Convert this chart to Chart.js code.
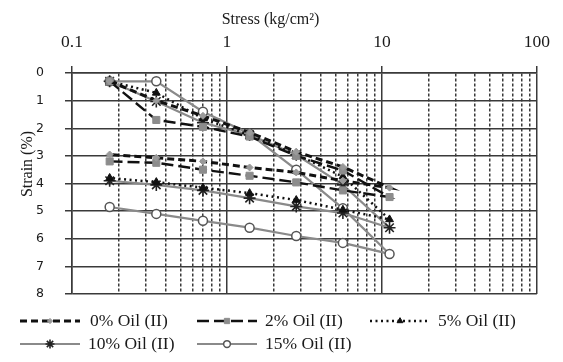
<!DOCTYPE html>
<html>
<head>
<meta charset="utf-8">
<script src="https://cdn.jsdelivr.net/npm/chart.js@4.4.0/dist/chart.umd.min.js"></script>
<style>
  html, body { margin: 0; padding: 0; background: #ffffff; }
  #wrap { width: 563px; height: 362px; }
</style>
</head>
<body>
<div id="wrap"><canvas id="c" width="563" height="362"></canvas></div>
<script>
// Applied stress steps: loading up to 11.2 kg/cm², then unloading back down
const stressSteps = [0.175, 0.35, 0.7, 1.4, 2.8, 5.6, 11.2, 5.6, 2.8, 1.4, 0.7, 0.35, 0.175];

// Strain (%) measured at each stress step
const strainOil0  = [0.3, 1.0, 1.55, 2.15, 2.85, 3.4, 4.15, 3.9, 3.6, 3.42, 3.2, 3.07, 2.95];
const strainOil2  = [0.3, 1.7, 1.95, 2.3, 3.0, 3.53, 4.49, 4.25, 3.96, 3.72, 3.5, 3.25, 3.2];
const strainOil5  = [0.3, 0.72, 1.65, 2.25, 2.95, 3.75, 5.3, 4.95, 4.6, 4.35, 4.15, 3.95, 3.8];
const strainOil10 = [0.3, 1.03, 1.8, 2.24, 2.96, 4.05, 5.6, 5.07, 4.83, 4.53, 4.25, 4.05, 3.9];
const strainOil15 = [0.3, 0.3, 1.4, 2.2, 3.5, 4.9, 6.55, 6.15, 5.9, 5.6, 5.35, 5.1, 4.85];

const seriesNames = ['0% Oil (II)', '2% Oil (II)', '5% Oil (II)', '10% Oil (II)', '15% Oil (II)'];

// Axis ticks
const stressDecades = [0.1, 1, 10, 100];
const stressDecadeLabels = ['0.1', '1', '10', '100'];
const decadeSubdivisions = [1, 2, 3, 4, 5, 6, 7, 8, 9];
const strainTicks = [0, 1, 2, 3, 4, 5, 6, 7, 8];

const GRID = '#3a3a3a';
const SERIF = '"Liberation Serif", "Times New Roman", serif';

function pairs(xs, ys) { return xs.map((x, i) => ({ x: x, y: ys[i] })); }

function isDecade(v) {
  const l = Math.log10(v);
  return Math.abs(l - Math.round(l)) < 1e-9;
}

const datasets = [
  {
    label: seriesNames[0], data: pairs(stressSteps, strainOil0),
    borderColor: '#111', borderWidth: 3, borderDash: [7, 4],
    pointStyle: 'rectRot', pointRadius: 3.5, pointBackgroundColor: '#9a9a9a',
    pointBorderColor: '#9a9a9a', pointBorderWidth: 1
  },
  {
    label: seriesNames[1], data: pairs(stressSteps, strainOil2),
    borderColor: '#111', borderWidth: 2.4, borderDash: [12, 5],
    pointStyle: 'rect', pointRadius: 5, pointBackgroundColor: '#8c8c8c',
    pointBorderColor: '#8c8c8c', pointBorderWidth: 1
  },
  {
    label: seriesNames[2], data: pairs(stressSteps, strainOil5),
    borderColor: '#111', borderWidth: 2.5, borderDash: [2, 3.5],
    pointStyle: 'triangle', pointRadius: 4.5, pointBackgroundColor: '#111',
    pointBorderColor: '#111', pointBorderWidth: 1
  },
  {
    label: seriesNames[3], data: pairs(stressSteps, strainOil10),
    borderColor: '#8a8a8a', borderWidth: 2.2,
    pointStyle: 'star', pointRadius: 6, pointBackgroundColor: '#222',
    pointBorderColor: '#222', pointBorderWidth: 1.6
  },
  {
    label: seriesNames[4], data: pairs(stressSteps, strainOil15),
    borderColor: '#8a8a8a', borderWidth: 2.2,
    pointStyle: 'circle', pointRadius: 4.5, pointBackgroundColor: '#ffffff',
    pointBorderColor: '#555', pointBorderWidth: 1.5
  }
].map(d => Object.assign({ showLine: true, fill: false, tension: 0 }, d));

// Legend laid out in fixed columns under the plot
const legendSlots = [
  { x: 20, y: 321, textX: 90 },
  { x: 197, y: 321, textX: 265 },
  { x: 370, y: 321, textX: 438 },
  { x: 20, y: 344, textX: 88 },
  { x: 197, y: 344, textX: 265 }
];
const legendSampleLength = 60;

const columnLegend = {
  id: 'columnLegend',
  afterDraw(chart) {
    const ctx = chart.ctx;
    chart.data.datasets.forEach((ds, i) => {
      const slot = legendSlots[i];
      ctx.save();
      ctx.strokeStyle = ds.borderColor;
      ctx.lineWidth = ds.borderWidth;
      ctx.setLineDash(ds.borderDash || []);
      ctx.beginPath();
      ctx.moveTo(slot.x, slot.y);
      ctx.lineTo(slot.x + legendSampleLength, slot.y);
      ctx.stroke();
      ctx.setLineDash([]);
      ctx.fillStyle = ds.pointBackgroundColor;
      ctx.strokeStyle = ds.pointBorderColor;
      ctx.lineWidth = ds.pointBorderWidth;
      Chart.helpers.drawPoint(ctx, {
        pointStyle: ds.pointStyle, radius: ds.pointRadius * 0.75,
        rotation: 0, borderWidth: ds.pointBorderWidth
      }, slot.x + legendSampleLength / 2, slot.y);
      ctx.fillStyle = '#1a1a1a';
      ctx.font = '17.5px ' + SERIF;
      ctx.textBaseline = 'middle';
      ctx.textAlign = 'left';
      ctx.fillText(ds.label, slot.textX, slot.y);
      ctx.restore();
    });
  }
};

// Vertical axis title, placed a little above the plot's middle
const strainTitle = {
  id: 'strainTitle',
  afterDraw(chart) {
    const ctx = chart.ctx;
    ctx.save();
    ctx.translate(28, 164);
    ctx.rotate(-Math.PI / 2);
    ctx.font = '16px ' + SERIF;
    ctx.fillStyle = '#1a1a1a';
    ctx.textAlign = 'center';
    ctx.textBaseline = 'middle';
    ctx.fillText('Strain (%)', 0, 0);
    ctx.restore();
  }
};

new Chart(document.getElementById('c'), {
  type: 'scatter',
  data: { datasets: datasets },
  plugins: [columnLegend, strainTitle],
  options: {
    responsive: false,
    animation: false,
    devicePixelRatio: 1,
    layout: { padding: { left: 0, right: 22, top: 0, bottom: 68 } },
    plugins: {
      legend: { display: false },
      tooltip: { enabled: false },
      title: {
        display: true,
        text: 'Stress (kg/cm²)',
        color: '#1a1a1a',
        font: { family: SERIF, size: 16, weight: 'normal', lineHeight: 1.2 },
        padding: { top: 10, bottom: 0 }
      }
    },
    scales: {
      x: {
        type: 'logarithmic',
        position: 'top',
        min: 0.1,
        max: 100,
        afterBuildTicks(scale) {
          const ticks = [];
          stressDecades.slice(0, -1).forEach(d => {
            decadeSubdivisions.forEach(m => ticks.push({ value: +(d * m).toPrecision(6) }));
          });
          ticks.push({ value: stressDecades[stressDecades.length - 1] });
          scale.ticks = ticks;
        },
        afterFit(scale) { scale.height = 43.8; },
        ticks: {
          autoSkip: false,
          maxRotation: 0,
          padding: 13,
          color: '#1a1a1a',
          font: { family: SERIF, size: 17.5 },
          callback(value) {
            const k = stressDecades.findIndex(d => Math.abs(d - value) < 1e-9);
            return k >= 0 ? stressDecadeLabels[k] : '';
          }
        },
        grid: {
          color: GRID,
          lineWidth: 1.5,
          tickLength: 7,
          tickColor: (c) => (c.tick && isDecade(c.tick.value)) ? GRID : 'rgba(0,0,0,0)'
        },
        border: {
          display: true,
          color: GRID,
          width: 1.5,
          dash: (c) => (c.tick && !isDecade(c.tick.value)) ? [3, 2] : []
        }
      },
      y: {
        type: 'linear',
        reverse: true,
        min: strainTicks[0],
        max: strainTicks[strainTicks.length - 1],
        afterFit(scale) { scale.width = 72; },
        afterBuildTicks(scale) { scale.ticks = strainTicks.map(v => ({ value: v })); },
        ticks: {
          padding: 21,
          color: '#1a1a1a',
          font: { family: '"DejaVu Sans", sans-serif', size: 12.5 }
        },
        grid: { color: GRID, lineWidth: 1.5, tickLength: 7, tickColor: GRID },
        border: { display: true, color: GRID, width: 1.5 }
      }
    }
  }
});
</script>
</body>
</html>
